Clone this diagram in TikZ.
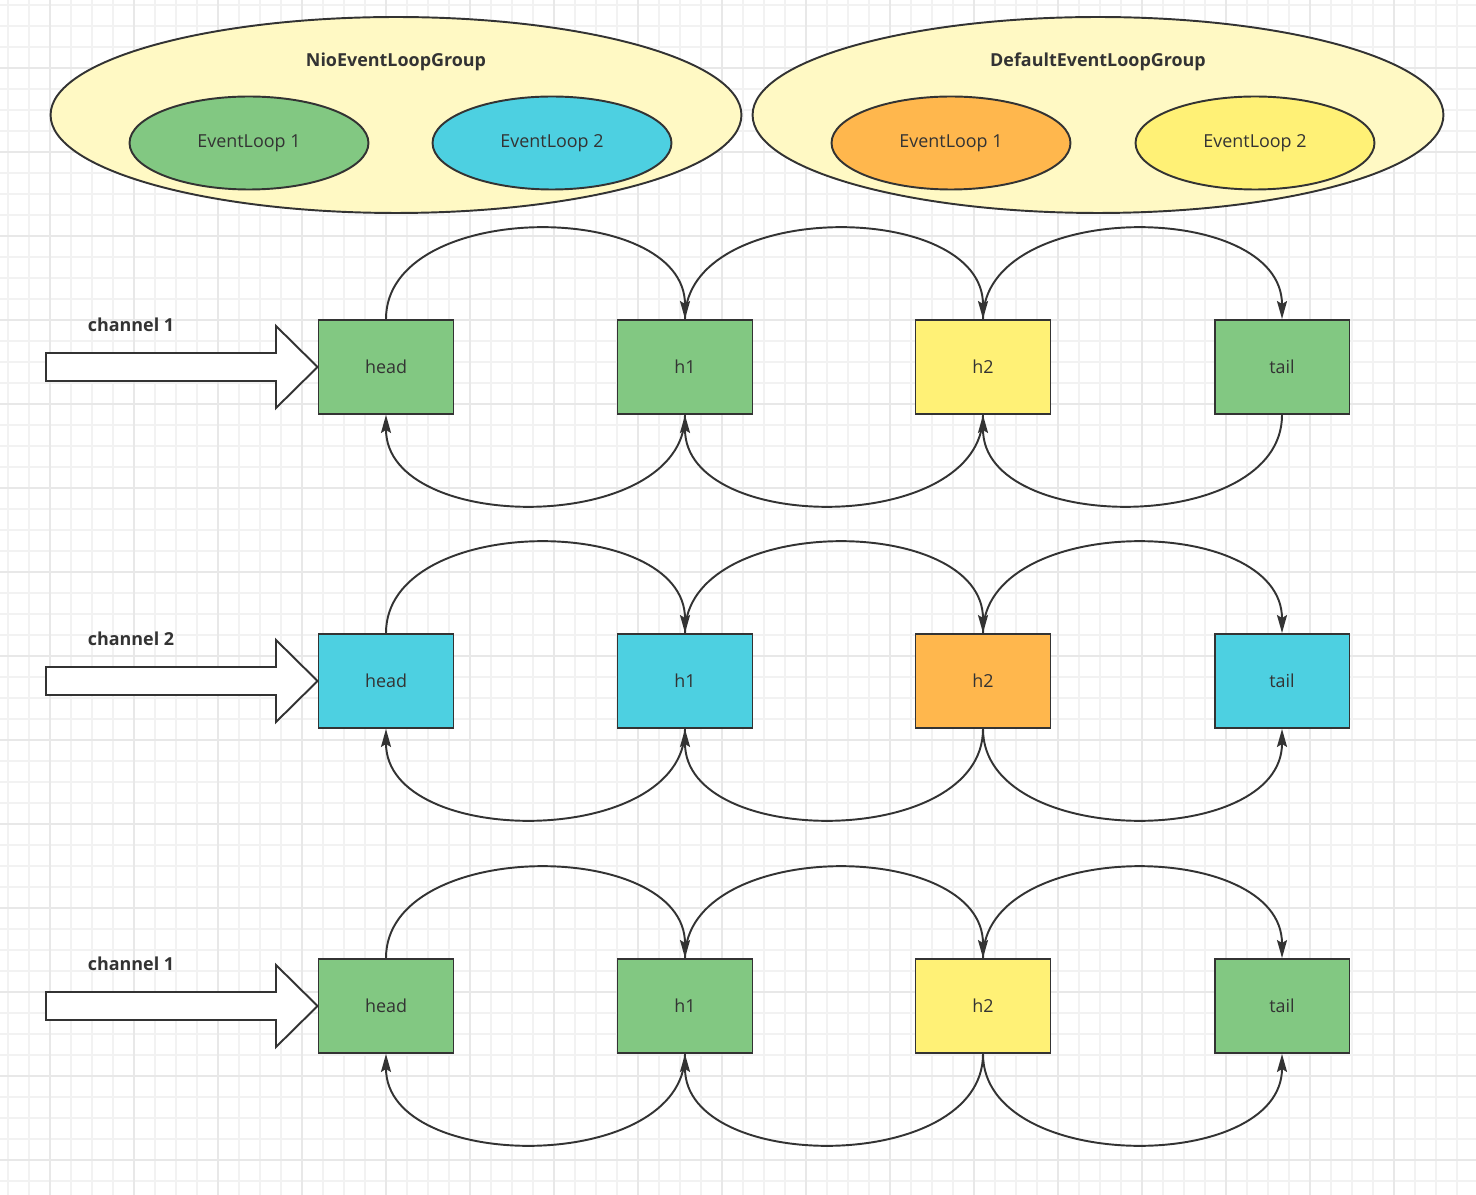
\documentclass[tikz,border=0pt]{standalone}
\usepackage{fontspec}
\setmainfont{Open Sans}
\usetikzlibrary{arrows.meta,shapes.geometric}
\definecolor{linedark}{HTML}{333333}
\definecolor{groupfill}{HTML}{FFF9C4}
\definecolor{loopgreen}{HTML}{82C882}
\definecolor{loopcyan}{HTML}{4DD0E1}
\definecolor{looporange}{HTML}{FFB74D}
\definecolor{loopyellow}{HTML}{FFF176}
\definecolor{gridminor}{HTML}{F2F2F2}
\definecolor{gridmajor}{HTML}{E8E8E8}
\tikzset{
  box/.style={draw=linedark,line width=1.1pt,minimum width=2.7cm,minimum height=1.88cm,inner sep=0pt,text=linedark},
  group/.style={ellipse,draw=linedark,line width=1.1pt,fill=groupfill,minimum width=13.82cm,minimum height=3.92cm,inner sep=0pt},
  evloop/.style={ellipse,draw=linedark,line width=1.1pt,minimum width=4.78cm,minimum height=1.86cm,inner sep=0pt,text=linedark},
  title/.style={font=\bfseries\fontsize{10.2}{12}\selectfont,text=linedark},
  link/.style={draw=linedark,line width=1.1pt,-{Stealth[length=3.6mm,width=2mm,inset=0.6mm]}},
  feed/.style={draw=linedark,line width=1.1pt,fill=white,line join=miter}
}
\begin{document}
\begin{tikzpicture}
  [x=0.02cm,y=-0.02cm,every node/.append style={font=\fontsize{10.2}{12}\selectfont}]
  \useasboundingbox[fill=white] (0,0) rectangle (1476,1195);
  % grid
  \foreach \x in {8,29,...,1476} \draw[gridminor,line width=0.6pt] (\x,0) -- (\x,1195);
  \foreach \y in {5,26,...,1195} \draw[gridminor,line width=0.6pt] (0,\y) -- (1476,\y);
  \foreach \x in {50,134,...,1476} \draw[gridmajor,line width=0.6pt] (\x,0) -- (\x,1195);
  \foreach \y in {68,152,...,1195} \draw[gridmajor,line width=0.6pt] (0,\y) -- (1476,\y);

  % event loop groups
  \node[group] (nio) at (396,115) {};
  \node[title] (nioTitle) at (396,62) {NioEventLoopGroup};
  \node[evloop,fill=loopgreen] (nioL1) at (249,143) {EventLoop 1};
  \node[evloop,fill=loopcyan] (nioL2) at (552,143) {EventLoop 2};
  \node[group] (def) at (1098,115) {};
  \node[title] (defTitle) at (1098,62) {DefaultEventLoopGroup};
  \node[evloop,fill=looporange] (defL1) at (951,143) {EventLoop 1};
  \node[evloop,fill=loopyellow] (defL2) at (1255,143) {EventLoop 2};

  % pipelines
  \foreach \r/\y/\ca/\cb/\ch in {1/367/loopgreen/loopyellow/1,
    2/681/loopcyan/looporange/2, 3/1006/loopgreen/loopyellow/1}
  {
    \node[box,fill=\ca] (head\r) at (386,\y) {head};
    \node[box,fill=\ca] (h1\r) at (685,\y) {h1};
    \node[box,fill=\cb] (h2\r) at (983,\y) {h2};
    \node[box,fill=\ca] (tail\r) at (1282,\y) {tail};
    \node[title] (chan\r) at (131,\y-42) {channel \ch};
    \draw[feed] (46,\y-14) -- (276,\y-14) -- (276,\y-41) -- (head\r.west)
      -- (276,\y+41) -- (276,\y+14) -- (46,\y+14) -- cycle;
    \foreach \from/\to in {head\r/h1\r, h1\r/h2\r, h2\r/tail\r}
      \draw[link] (\from.north) .. controls +(0,-120) and +(0,-120) .. (\to.north);
    \foreach \from/\to in {h1\r/head\r, h2\r/h1\r}
      \draw[link] (\from.south) .. controls +(0,120) and +(0,120) .. (\to.south);
  }
  \draw[link] (tail1.south) .. controls +(0,120) and +(0,120) .. (h21.south);
  \draw[link] (h22.south) .. controls +(0,120) and +(0,120) .. (tail2.south);
  \draw[link] (h23.south) .. controls +(0,120) and +(0,120) .. (tail3.south);
\end{tikzpicture}
\end{document}
